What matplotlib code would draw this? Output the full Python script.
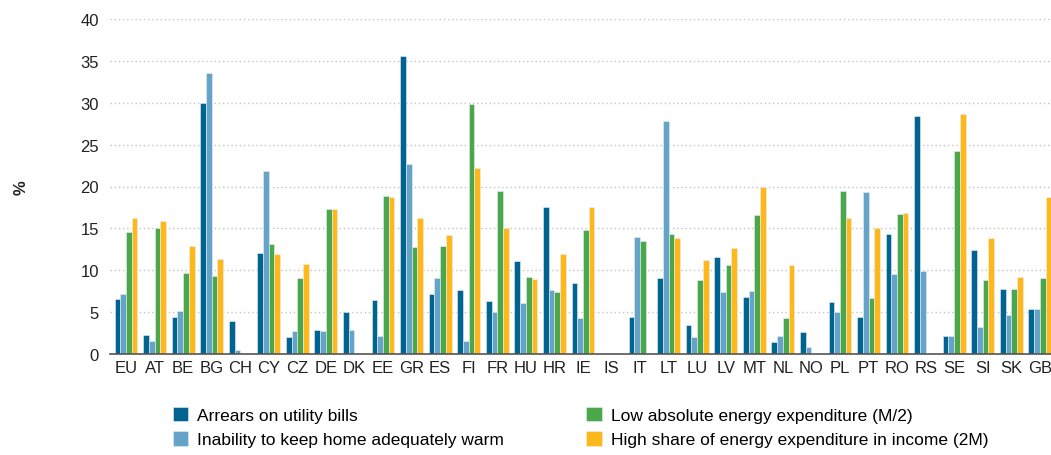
import numpy as np
import matplotlib.pyplot as plt

plt.rcParams['font.family'] = ['Liberation Sans', 'DejaVu Sans']

countries = ['EU', 'AT', 'BE', 'BG', 'CH', 'CY', 'CZ', 'DE', 'DK', 'EE', 'GR', 'ES', 'FI',
             'FR', 'HU', 'HR', 'IE', 'IS', 'IT', 'LT', 'LU', 'LV', 'MT', 'NL', 'NO', 'PL',
             'PT', 'RO', 'RS', 'SE', 'SI', 'SK', 'GB']

# nan = no data for that country
nan = np.nan
arrears = [6.6, 2.3, 4.4, 30.0, 4.0, 12.1, 2.0, 2.9, 5.0, 6.4, 35.6, 7.2, 7.6,
           6.3, 11.1, 17.5, 8.5, nan, 4.4, 9.1, 3.5, 11.6, 6.8, 1.4, 2.6, 6.2,
           4.4, 14.3, 28.4, 2.1, 12.4, 7.8, 5.4]
warm = [7.2, 1.6, 5.1, 33.6, 0.5, 21.8, 2.7, 2.7, 2.9, 2.2, 22.7, 9.1, 1.6,
        5.0, 6.1, 7.6, 4.3, nan, 14.0, 27.8, 2.0, 7.4, 7.5, 2.1, 0.8, 5.0,
        19.3, 9.5, 9.9, 2.2, 3.2, 4.7, 5.4]
low_abs = [14.6, 15.0, 9.7, 9.3, nan, 13.1, 9.1, 17.3, nan, 18.9, 12.8, 12.9, 29.9,
           19.5, 9.2, 7.4, 14.8, nan, 13.5, 14.3, 8.8, 10.6, 16.6, 4.3, nan, 19.5,
           6.7, 16.7, nan, 24.2, 8.8, 7.8, 9.1]
high_share = [16.2, 15.9, 12.9, 11.4, nan, 11.9, 10.7, 17.3, nan, 18.7, 16.2, 14.2, 22.2,
              15.0, 8.9, 11.9, 17.5, nan, nan, 13.8, 11.2, 12.6, 20.0, 10.6, nan, 16.2,
              15.0, 16.8, nan, 28.6, 13.8, 9.2, 18.7]

labels = ['Arrears on utility bills', 'Inability to keep home adequately warm',
          'Low absolute energy expenditure (M/2)', 'High share of energy expenditure in income (2M)']
colors = ['#006490', '#66a3c8', '#4aa74b', '#ffb81c']

fig = plt.figure(figsize=(10.51, 4.56), dpi=100)
ax = fig.add_axes([110 / 1051, 1 - 355 / 456, 941 / 1051, 335 / 456])

x = np.arange(len(countries))
w = 0.2
series = [arrears, warm, low_abs, high_share]
for i, (vals, lab, col) in enumerate(zip(series, labels, colors)):
    ax.bar(x + (i - 1.5) * w, vals, width=w, color=col, edgecolor='#e8f0f4',
           linewidth=0.4, label=lab, zorder=3)

ax.set_xlim(-0.56, 32.39)
ax.set_ylim(0, 40)
ax.set_yticks(range(0, 41, 5))
ax.set_xticks(x)
ax.set_xticklabels(countries)
ax.tick_params(axis='both', length=0, labelsize=12, colors='#222222')
ax.tick_params(axis='y', pad=8)
ax.tick_params(axis='x', pad=4)

for s in ['top', 'right', 'left']:
    ax.spines[s].set_visible(False)
ax.spines['bottom'].set_color('#555555')
ax.spines['bottom'].set_linewidth(1.2)
ax.spines['bottom'].set_zorder(4)

ax.yaxis.grid(True, linestyle=(0, (1, 2)), color='#c4c4c4', linewidth=1, zorder=0)
ax.set_axisbelow(True)

fig.text(0.02, 1 - 188 / 456, '%', rotation=90, ha='center', va='center',
         fontsize=12, fontweight='bold', color='#222222')

fig.legend(loc='center left', bbox_to_anchor=(164 / 1051, 1 - 428 / 456), ncol=2,
           frameon=False, fontsize=12.5, handlelength=0.9, handleheight=0.9,
           handletextpad=0.5, columnspacing=4.75, labelspacing=0.48, borderpad=0)

fig.savefig('out.png', dpi=100)
